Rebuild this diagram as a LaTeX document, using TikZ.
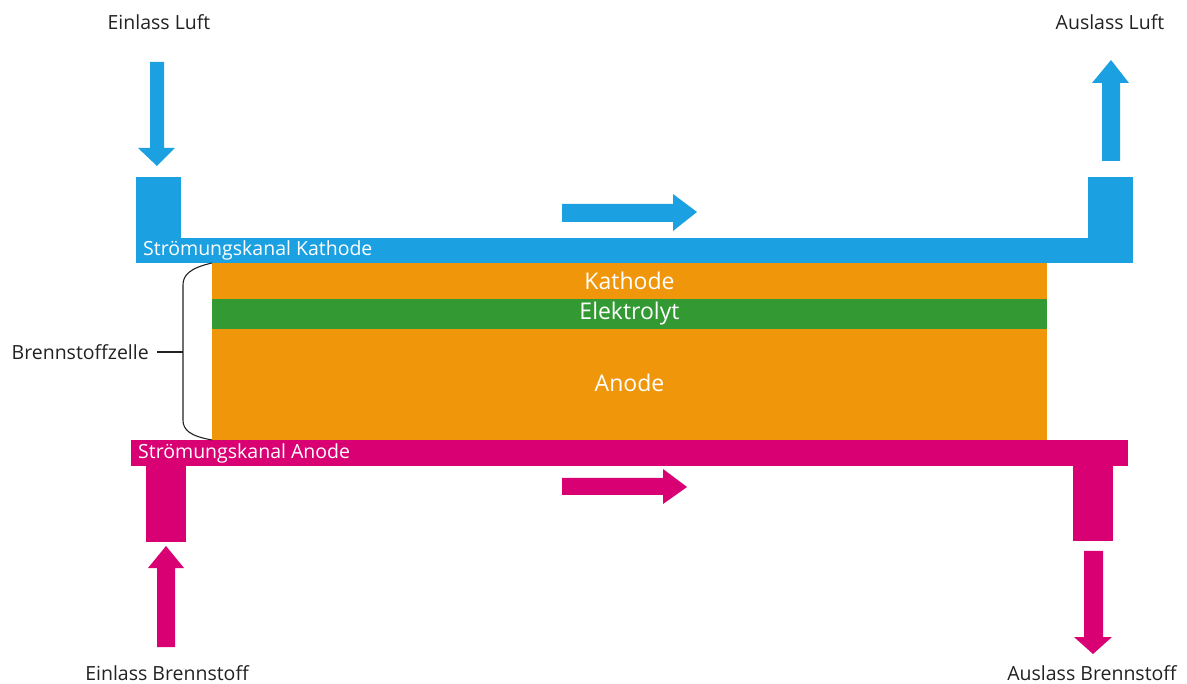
\documentclass[tikz,border=0pt]{standalone}
\usepackage{fontspec}
\setmainfont{Open Sans}
\definecolor{airblue}{HTML}{1BA1E2}
\definecolor{fuelmag}{HTML}{D80073}
\definecolor{cellorange}{HTML}{F0960A}
\definecolor{elgreen}{HTML}{339933}
\definecolor{labelgray}{HTML}{222222}
\begin{document}
\begin{tikzpicture}[x=1pt,y=-1pt,
  block/.style={draw=none,inner sep=0pt,outer sep=0pt,anchor=north west},
  lbl/.style={inner sep=0pt,text=labelgray,font=\fontsize{19.5}{22}\selectfont},
  inlbl/.style={inner sep=0pt,text=white,font=\fontsize{19.5}{22}\selectfont},
  celllbl/.style={inner sep=0pt,text=white,font=\fontsize{23}{26}\selectfont},
  bracestyle/.style={draw=labelgray,line width=1.1pt}]
\useasboundingbox (0,0) rectangle (1187,684);
% cathode channel and ports
\node[block,fill=airblue,minimum width=997pt,minimum height=25pt] (kch) at (136,238) {};
\node[block,fill=airblue,minimum width=45pt,minimum height=61pt] (kin) at (136,177) {};
\node[block,fill=airblue,minimum width=45pt,minimum height=61pt] (kout) at (1088,177) {};
% cell
\node[block,fill=cellorange,minimum width=835pt,minimum height=177pt] (cell) at (212,263) {};
\node[block,fill=elgreen,minimum width=835pt,minimum height=30pt] (elyt) at (212,299) {};
% anode channel and ports
\node[block,fill=fuelmag,minimum width=997pt,minimum height=26pt] (ach) at (131,440) {};
\node[block,fill=fuelmag,minimum width=40pt,minimum height=76pt] (ain) at (146,466) {};
\node[block,fill=fuelmag,minimum width=40pt,minimum height=75pt] (aout) at (1073,466) {};
% block arrows
\fill[airblue] (150,62) -- (164,62) -- (164,148) -- (175,148) -- (157,166) -- (138,148) -- (150,148) -- cycle;
\fill[airblue] (1102,161) -- (1120,161) -- (1120,83) -- (1129,83) -- (1111,60) -- (1092,83) -- (1102,83) -- cycle;
\fill[airblue] (562,204) -- (673,204) -- (673,194) -- (697,212) -- (673,231) -- (673,222) -- (562,222) -- cycle;
\fill[fuelmag] (562,478) -- (663,478) -- (663,469) -- (687,487) -- (663,504) -- (663,495) -- (562,495) -- cycle;
\fill[fuelmag] (157,647) -- (175,647) -- (175,568) -- (184,568) -- (166,546) -- (148,568) -- (157,568) -- cycle;
\fill[fuelmag] (1084,551) -- (1103,551) -- (1103,637) -- (1112,637) -- (1093,654) -- (1074,637) -- (1084,637) -- cycle;
% texts
\node[lbl] (tein) at (159,22) {Einlass Luft};
\node[lbl] (taus) at (1110,22) {Auslass Luft};
\node[lbl] (tbin) at (167,673) {Einlass Brennstoff};
\node[lbl] (tbaus) at (1092,673) {Auslass Brennstoff};
\node[lbl,anchor=east] (tbz) at (149,352) {Brennstoffzelle};
\node[inlbl,anchor=west] (tkch) at (143,250.5) {Strömungskanal Kathode};
\node[inlbl,anchor=west] (tach) at (138,453) {Strömungskanal Anode};
\node[celllbl] (tk) at (629.5,281) {Kathode};
\node[celllbl] (te) at (629.5,314) {Elektrolyt};
\node[celllbl] (ta) at (629.5,383) {Anode};
% brace
\coordinate (bt) at (183,285);
\coordinate (bb) at (183,420);
\coordinate (bm) at (183,352);
\draw[bracestyle] (cell.north west) .. controls (190,268) and (183,275) .. (bt) -- (bb) .. controls (183,430) and (190,436) .. (cell.south west);
\draw[bracestyle] (bm) -- ([xshift=8pt]tbz.east);
\end{tikzpicture}
\end{document}
